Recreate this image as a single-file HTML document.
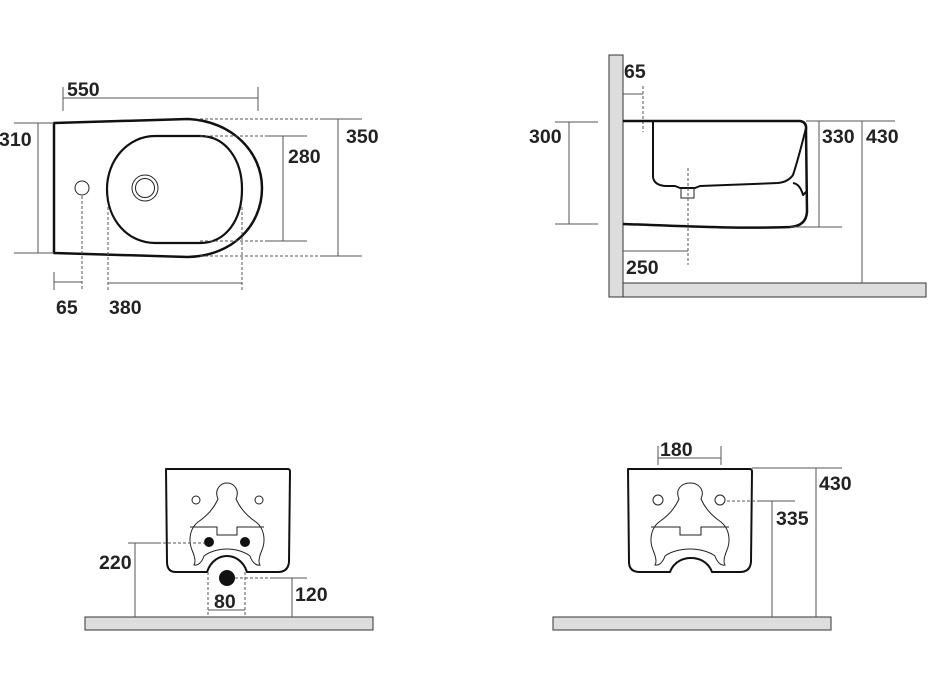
<!DOCTYPE html>
<html><head><meta charset="utf-8"><style>
html,body{margin:0;padding:0;background:#fff}
svg{display:block}
text{font-family:"Liberation Sans",Arial,sans-serif;font-weight:bold;font-size:19.5px;fill:#222}
.d{stroke:#555;stroke-width:1;fill:none}
.ds{stroke:#555;stroke-width:1;fill:none;stroke-dasharray:3,2}
.o{stroke:#111;stroke-width:2.5;fill:#fff;stroke-linejoin:round}
.t{stroke:#222;stroke-width:1;fill:none}
.g{fill:#ddd;stroke:#333;stroke-width:1}
</style></head><body>
<svg width="928" height="686" viewBox="0 0 928 686" xmlns="http://www.w3.org/2000/svg">
<!-- TOP LEFT -->
<path class="d" d="M63,87V111M258,87V111M63,98H258"/>
<text x="67" y="96">550</text>
<path class="o" d="M54,123 L188,119 C232,121 262,152 262,188 C262,226 232,256 188,257 L54,253 Z"/>
<path class="o" d="M155,136 L200,136 C226,136 242,160 242,189 C242,220 226,243 200,243 L155,243 C128,243 107,220 107,189 C107,160 128,136 155,136Z" style="stroke-width:2.2"/>
<circle class="t" cx="145" cy="188" r="13"/>
<circle class="t" cx="145" cy="188" r="9.5"/>
<circle class="t" cx="82" cy="188" r="7"/>
<path class="ds" d="M82,196V290M108,207V290M242,207V290"/>
<path class="d" d="M54,272V290M54,282H82M108,283H242"/>
<text x="56" y="314">65</text>
<text x="109" y="314">380</text>
<path class="d" d="M14,123H54M14,253H54M38,123V253"/>
<text x="-1" y="146">310</text>
<path class="ds" d="M200,119H320M200,256H320M200,136H265M200,241H265"/>
<path class="d" d="M320,119H362M320,256H362M338,119V256M265,136H307M265,241H307M283,136V241"/>
<text x="346" y="143">350</text>
<text x="288" y="163">280</text>
<!-- TOP RIGHT -->
<rect class="g" x="609" y="55" width="14" height="242"/>
<rect class="g" x="623" y="283" width="303" height="14"/>
<text x="624" y="78">65</text>
<path class="d" d="M623,94H643"/>
<path class="ds" d="M643,86V132"/>
<path class="o" style="fill:none" d="M623,121 L800,121 Q807,122 806,130 L807,212 Q806,226 790,227 C740,229 680,226 623,224"/>
<path class="o" style="fill:none;stroke-width:2" d="M653,121 V177 Q654,185 665,186 L675,186 L680,188 L695,188 L700,186 L778,183 Q788,182 793,175 Q798,160 806,128 M793,183 Q800,184 803,195 L806,192"/>
<path class="t" d="M681,188V198H694V188"/>
<path class="d" d="M555,122H598M555,224H598M569,122V224"/>
<text x="529" y="143">300</text>
<path class="d" d="M623,251H688"/>
<path class="ds" d="M688,168V265"/>
<text x="626" y="274">250</text>
<path class="d" d="M806,121H895M790,227H842M819,121V227M862,121V283"/>
<text x="822" y="143">330</text>
<text x="866" y="143">430</text>
<!-- BOTTOM LEFT -->
<rect class="g" x="85" y="617" width="288" height="13"/>
<path class="o" style="stroke-width:2" d="M166,469 H288 Q290,469 290,472 L289,562 Q288,572 278,572 L247,572 C243,560 234,556 227,556 C220,556 211,560 207,572 L176,572 Q167,572 167,562 Z"/>
<path class="t" d="M218,499 C214,490 220,483 227,483 C234,483 240,490 236,499 C240,508 247,516 256,522 C264,528 266,540 262,550 C259,557 258,562 260,565 C256,566 252,562 250,556 C245,552 236,549 227,549 C218,549 209,552 204,556 C202,562 198,566 194,565 C196,562 195,557 192,550 C188,540 190,528 198,522 C207,516 214,508 218,499 Z M190,527 L217,527 V535 H237 V527 L264,527"/>
<circle class="t" cx="196" cy="500" r="4"/>
<circle class="t" cx="259" cy="500" r="4"/>
<circle cx="209" cy="542" r="5" fill="#111"/>
<circle cx="245" cy="542" r="5" fill="#111"/>
<circle cx="227" cy="578" r="8" fill="#111"/>
<path class="d" d="M128,543H158M135,543V617"/>
<path class="ds" d="M158,543H205"/>
<text x="99" y="569">220</text>
<path class="ds" d="M208,572V617M245,572V617M235,578H270"/>
<path class="d" d="M208,610H245M270,578H307M292,578V617"/>
<text x="214" y="608">80</text>
<text x="295" y="601">120</text>
<!-- BOTTOM RIGHT -->
<rect class="g" x="553" y="617" width="278" height="13"/>
<path class="o" style="stroke-width:2" d="M628,469 H750 Q752,469 752,472 L751,562 Q750,572 740,572 L712,572 C708,561 698,558 691,558 C684,558 674,561 670,572 L640,572 Q629,572 629,562 Z"/>
<path class="t" d="M679,499 C675,490 681,483 690,483 C699,483 705,490 701,499 C705,508 712,516 721,522 C729,528 731,540 727,550 C724,557 723,562 725,565 C721,566 717,562 715,556 C710,552 700,549 690,549 C680,549 670,552 665,556 C663,562 659,566 655,565 C657,562 656,557 653,550 C649,540 651,528 659,522 C668,516 675,508 679,499 Z M651,527 L680,527 V535 H701 V527 L729,527"/>
<circle class="t" cx="658" cy="500" r="5"/>
<circle class="t" cx="720" cy="500" r="5"/>
<path class="d" d="M658,446V465M721,446V465M658,458H721"/>
<text x="660" y="456">180</text>
<path class="d" d="M752,468H842M816,468V617M760,501H795M772,501V617"/>
<path class="ds" d="M727,501H760"/>
<text x="819" y="490">430</text>
<text x="776" y="525">335</text>
</svg>
</body></html>
